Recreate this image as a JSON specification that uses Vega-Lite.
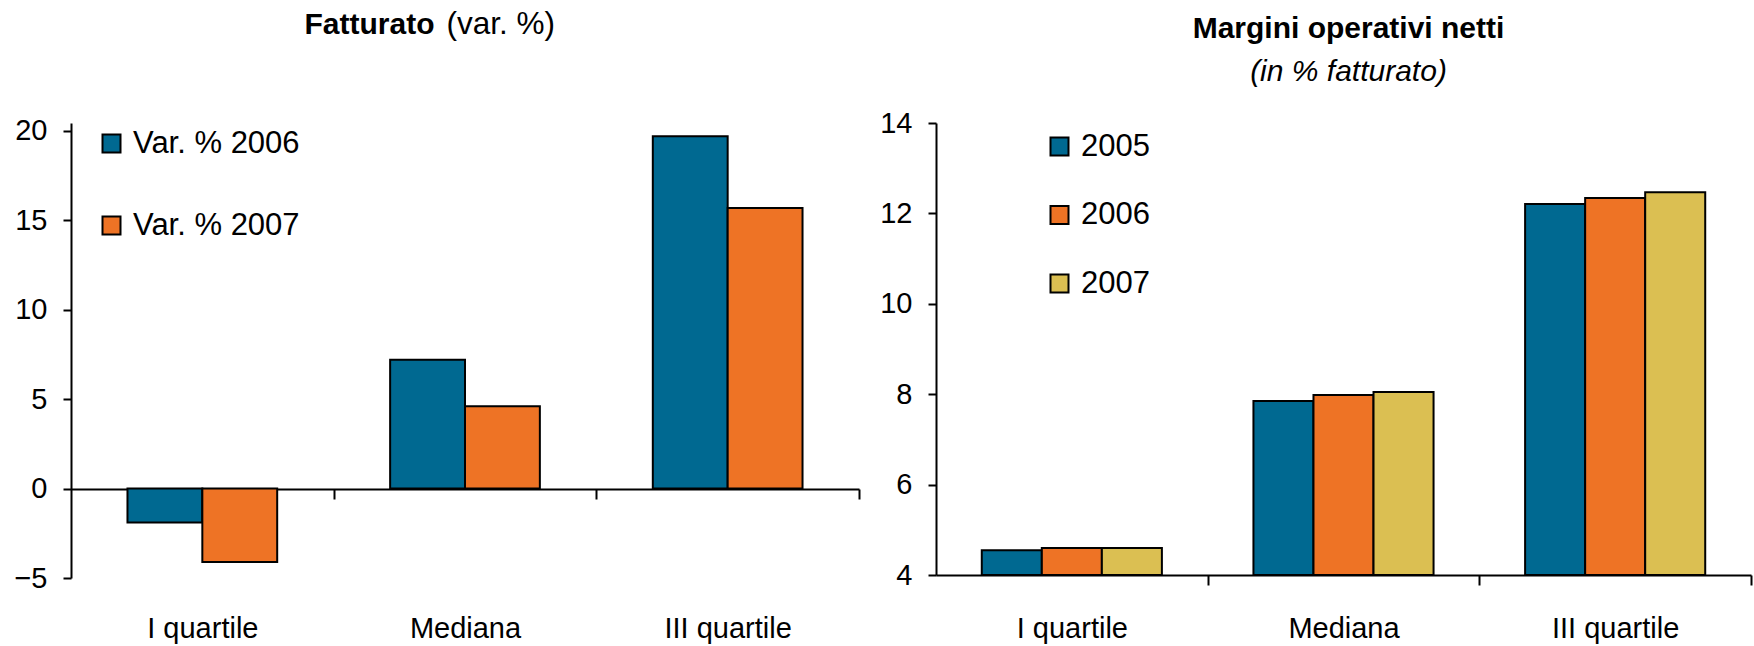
{
  "$schema": "https://vega.github.io/schema/vega-lite/v6.json",
  "padding": {"left": 13, "top": 8, "right": 2, "bottom": 2},
  "spacing": 19,
  "background": "white",
  "config": {
    "view": {"stroke": null},
    "font": "Liberation Sans",
    "axis": {
      "domainColor": "black", "domainWidth": 2, "tickColor": "black", "tickWidth": 2,
      "labelColor": "black", "labelFont": "Liberation Sans", "labelFontSize": 29, "grid": false, "title": null
    },
    "legend": {
      "orient": "none", "direction": "vertical", "title": null, "symbolType": "square", "symbolSize": 324,
      "symbolStrokeColor": "black", "symbolStrokeWidth": 2, "labelFontSize": 31, "labelColor": "black",
      "labelFont": "Liberation Sans", "labelOffset": 6, "labelLimit": 400
    }
  },
  "resolve": {"scale": {"color": "independent", "xOffset": "independent"}, "legend": {"color": "independent"}},
  "hconcat": [
    {
      "width": 788,
      "height": 455,
      "data": {"values": [
        {"cat": "I quartile", "serie": "Var. % 2006", "val": -1.9},
        {"cat": "I quartile", "serie": "Var. % 2007", "val": -4.1},
        {"cat": "Mediana", "serie": "Var. % 2006", "val": 7.2},
        {"cat": "Mediana", "serie": "Var. % 2007", "val": 4.6},
        {"cat": "III quartile", "serie": "Var. % 2006", "val": 19.7},
        {"cat": "III quartile", "serie": "Var. % 2007", "val": 15.7}
      ]},
      "mark": {"type": "bar", "stroke": "black", "strokeWidth": 2},
      "encoding": {
        "x": {
          "field": "cat", "type": "nominal", "sort": ["I quartile", "Mediana", "III quartile"],
          "scale": {"paddingInner": 0.43, "paddingOuter": 0.215},
          "axis": {
            "orient": "bottom", "offset": -89, "tickSize": 10, "tickOffset": 131.33, "labelOffset": -131.33,
            "labelPadding": 115, "labelAngle": 0,
            "title": "(var. %)", "titleX": 375, "titleY": -456, "titleAlign": "left", "titleAnchor": null, "titleBaseline": "alphabetic",
            "titleFont": "Liberation Sans", "titleFontSize": 31.5, "titleFontWeight": "normal", "titleColor": "black"
          }
        },
        "xOffset": {"field": "serie", "type": "nominal", "scale": {"paddingInner": 0, "paddingOuter": 0}},
        "y": {
          "field": "val", "type": "quantitative",
          "scale": {"domain": [-5, 20.447], "nice": false},
          "axis": {
            "values": [-5, 0, 5, 10, 15, 20], "tickSize": 8, "labelPadding": 16,
            "title": "Fatturato", "titleX": 233, "titleY": -90, "titleAngle": 0, "titleAlign": "left", "titleAnchor": null, "titleBaseline": "alphabetic",
            "titleFont": "Liberation Sans", "titleFontSize": 30, "titleFontWeight": "bold", "titleColor": "black",
            "encode": {"domain": {"update": {"y2": {"value": 8}}}}
          }
        },
        "y2": {"datum": 0},
        "color": {
          "field": "serie", "type": "nominal",
          "scale": {"domain": ["Var. % 2006", "Var. % 2007"], "range": ["#006991", "#EE7325"]},
          "legend": {"legendX": 25, "legendY": 5, "rowPadding": 50}
        }
      }
    },
    {
      "width": 815,
      "height": 452,
      "title": {
        "text": "Margini operativi netti",
        "subtitle": "(in % fatturato)",
        "anchor": "middle", "frame": "group", "dx": 5,
        "font": "Liberation Sans", "fontSize": 30, "fontWeight": "bold", "color": "black",
        "subtitleFont": "Liberation Sans", "subtitleFontSize": 30, "subtitleFontStyle": "italic", "subtitleColor": "black",
        "subtitlePadding": 13, "offset": 22.5
      },
      "data": {"values": [
        {"cat": "I quartile", "anno": "2005", "val": 4.55},
        {"cat": "I quartile", "anno": "2006", "val": 4.6},
        {"cat": "I quartile", "anno": "2007", "val": 4.6},
        {"cat": "Mediana", "anno": "2005", "val": 7.85},
        {"cat": "Mediana", "anno": "2006", "val": 7.98},
        {"cat": "Mediana", "anno": "2007", "val": 8.05},
        {"cat": "III quartile", "anno": "2005", "val": 12.21},
        {"cat": "III quartile", "anno": "2006", "val": 12.34},
        {"cat": "III quartile", "anno": "2007", "val": 12.47}
      ]},
      "mark": {"type": "bar", "stroke": "black", "strokeWidth": 2},
      "encoding": {
        "x": {
          "field": "cat", "type": "nominal", "sort": ["I quartile", "Mediana", "III quartile"],
          "scale": {"paddingInner": 0.337, "paddingOuter": 0.1685},
          "axis": {"orient": "bottom", "tickSize": 10, "tickOffset": 135.83, "labelOffset": -135.83, "labelPadding": 29, "labelAngle": 0}
        },
        "xOffset": {"field": "anno", "type": "nominal", "scale": {"paddingInner": 0, "paddingOuter": 0}},
        "y": {
          "field": "val", "type": "quantitative",
          "scale": {"domain": [4, 14], "nice": false, "zero": false},
          "axis": {"values": [4, 6, 8, 10, 12, 14], "tickSize": 8, "labelPadding": 16}
        },
        "y2": {"datum": 4},
        "color": {
          "field": "anno", "type": "nominal",
          "scale": {"domain": ["2005", "2006", "2007"], "range": ["#006991", "#EE7325", "#DBBF52"]},
          "legend": {"legendX": 108, "legendY": 8, "rowPadding": 36.5}
        }
      }
    }
  ]
}
